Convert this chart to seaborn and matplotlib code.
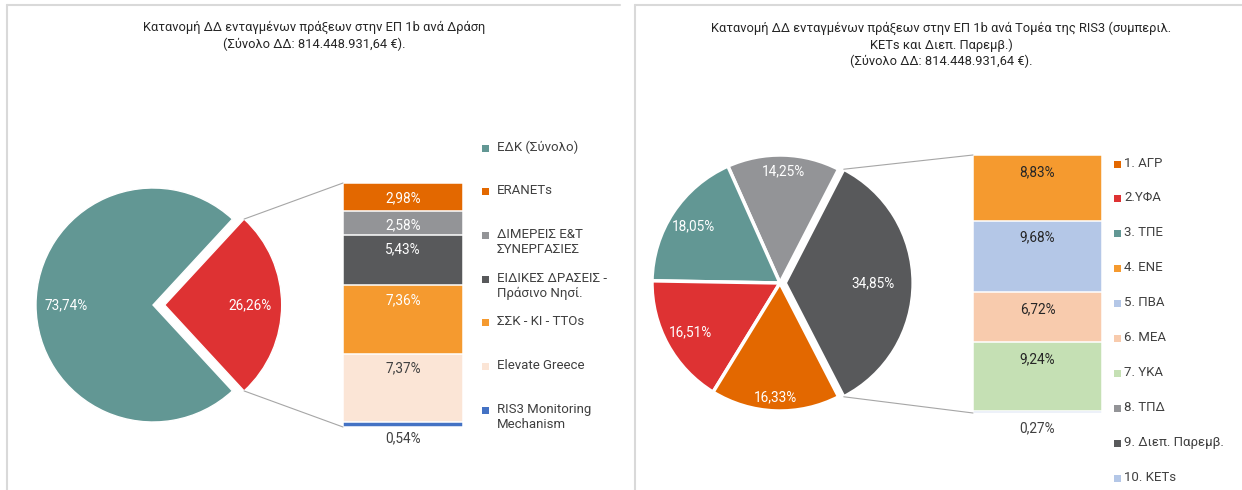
import numpy as np
import pandas as pd
import matplotlib
matplotlib.use("Agg")
import matplotlib.pyplot as plt
import seaborn as sns
from matplotlib.patches import Rectangle, ConnectionPatch

# ---- left chart: ΕΠ 1b ανά Δράση
left_title = "Κατανομή ΔΔ ενταγμένων πράξεων στην ΕΠ 1b ανά Δράση\n(Σύνολο ΔΔ: 814.448.931,64 €)."
left_pie_names = ["Λοιπές Δράσεις", "ΕΔΚ (Σύνολο)"]
left_pie_values = [26.26, 73.74]
left_bar_names = ["ERANETs", "ΔΙΜΕΡΕΙΣ Ε&Τ\nΣΥΝΕΡΓΑΣΙΕΣ", "ΕΙΔΙΚΕΣ ΔΡΑΣΕΙΣ -\nΠράσινο Νησί.",
                  "ΣΣΚ - ΚΙ - TTOs", "Elevate Greece", "RIS3 Monitoring\nMechanism"]
left_bar_values = [2.98, 2.58, 5.43, 7.36, 7.37, 0.54]   # top -> bottom

# ---- right chart: ΕΠ 1b ανά Τομέα της RIS3
right_title = ("Κατανομή ΔΔ ενταγμένων πράξεων στην ΕΠ 1b ανά Τομέα της RIS3 (συμπεριλ.\n"
               "KETs και Διεπ. Παρεμβ.)\n(Σύνολο ΔΔ: 814.448.931,64 €).")
right_pie_names = ["Λοιποί Τομείς", "8. ΤΠΔ", "3. ΤΠΕ", "2.ΥΦΑ", "1. ΑΓΡ"]
right_pie_values = [34.85, 14.25, 18.05, 16.51, 16.33]
right_bar_names = ["4. ΕΝΕ", "5. ΠΒΑ", "6. ΜΕΑ", "7. ΥΚΑ", "10. KETs"]
right_bar_values = [8.83, 9.68, 6.72, 9.24, 0.27]        # top -> bottom
right_legend_names = ["1. ΑΓΡ", "2.ΥΦΑ", "3. ΤΠΕ", "4. ΕΝΕ", "5. ΠΒΑ", "6. ΜΕΑ",
                      "7. ΥΚΑ", "8. ΤΠΔ", "9. Διεπ. Παρεμβ.", "10. KETs"]

# ---- colours
TEAL, RED, DORANGE = "#629794", "#DE3233", "#E36800"
GRAY, DGRAY, ORANGE = "#939497", "#58595B", "#F59A2F"
LPEACH, BLUE = "#FBE5D6", "#4472C4"
LBLUE, PEACH, LGREEN = "#B4C7E7", "#F8CBAD", "#C5E0B4"

left_pie_colors = [RED, TEAL]
left_bar_colors = [DORANGE, GRAY, DGRAY, ORANGE, LPEACH, BLUE]
left_bar_text = ["white", "white", "white", "white", "#404040", "#404040"]
right_pie_colors = [DGRAY, GRAY, TEAL, RED, DORANGE]
right_bar_colors = [ORANGE, LBLUE, PEACH, LGREEN, LBLUE]
right_bar_text = ["#262626"] * 5
right_legend_colors = [DORANGE, RED, TEAL, ORANGE, LBLUE, PEACH, LGREEN, GRAY, DGRAY, LBLUE]

sns.set_theme(style="white")
plt.rcParams["font.family"] = ["Roboto", "DejaVu Sans"]
FS_T, FS_L, FS_V = 9.3, 9.5, 9.8
TXT = "#404040"

W, H = 1242, 490
fig = plt.figure(figsize=(W / 100, H / 100), dpi=100)
base = fig.add_axes([0, 0, 1, 1])
base.set_xlim(0, W)
base.set_ylim(H, 0)
base.axis("off")


def px_axes(x, y, w, h):
    return fig.add_axes([x / W, 1 - (y + h) / H, w / W, h / H])


def fmt(v):
    return f"{v:.2f}%".replace(".", ",")


def draw_pie(cx, cy, r, values, colors, explode, lw, dists):
    k = 1.4
    ax = px_axes(cx - k * r, cy - k * r, 2 * k * r, 2 * k * r)
    start = -180 * values[0] / sum(values)
    ex = [explode] + [0] * (len(values) - 1)
    wedges, _ = ax.pie(values, colors=colors, startangle=start, explode=ex,
                       wedgeprops=dict(edgecolor="white", linewidth=lw))
    ax.set_xlim(-k, k)
    ax.set_ylim(-k, k)
    for w, v, d in zip(wedges, values, dists):
        a = np.deg2rad((w.theta1 + w.theta2) / 2)
        ax.text(w.center[0] + d * np.cos(a), w.center[1] + d * np.sin(a), fmt(v),
                color="white", fontsize=FS_V, ha="center", va="center")
    return ax, wedges[0]


def draw_bar(x, y, w, h, values, colors, tcolors, in_off, below_off):
    ax = px_axes(x, y, w, h)
    tops = np.cumsum(values[::-1])[::-1]
    df = pd.DataFrame({"k": ["bar"] * len(values), "top": tops, "c": colors})
    for _, row in df.iterrows():
        sns.barplot(x=[row["k"]], y=[row["top"]], color=row["c"], width=1, saturation=1,
                    edgecolor="white", linewidth=1.1, ax=ax)
    ax.set_xlim(-0.5, 0.5)
    ax.set_ylim(0, tops[0])
    ax.axis("off")
    for t, v, c in zip(tops, values, tcolors):
        if v >= 1:
            ax.annotate(fmt(v), (0, t), xytext=(0, -in_off), textcoords="offset pixels",
                        ha="center", va="center", color=c, fontsize=FS_V)
        else:
            ax.annotate(fmt(v), (0, 0), xytext=(0, -below_off), textcoords="offset pixels",
                        ha="center", va="center", color=TXT, fontsize=FS_V, annotation_clip=False)
    return ax, tops[0]


def connect(pie_ax, wedge, bar_ax, total):
    cxw, cyw = wedge.center
    for th, yb in ((wedge.theta2, total), (wedge.theta1, 0)):
        a = np.deg2rad(th)
        con = ConnectionPatch(xyA=(cxw + np.cos(a), cyw + np.sin(a)), coordsA=pie_ax.transData,
                              xyB=(-0.5, yb), coordsB=bar_ax.transData,
                              color="#A6A6A6", linewidth=0.8)
        fig.add_artist(con)


def legend(x, y0, step, gap, names, colors):
    for i, (n, c) in enumerate(zip(names, colors)):
        y = y0 + i * step
        base.add_patch(Rectangle((x, y - 3.5), 7, 7, color=c, lw=0))
        base.text(x + gap, y - 7.5, n, va="top", ha="left", fontsize=FS_L, color=TXT,
                  linespacing=1.25)


# panel frames
for x0, x1 in ((7, 620), (635, W)):
    base.plot([x0, x0], [5, H], color="#D9D9D9", lw=1.5)
    base.plot([x0, x1], [5, 5], color="#D9D9D9", lw=1.5)

base.text(314, 36, left_title, ha="center", va="center", fontsize=FS_T, color="#262626",
          linespacing=1.3)
base.text(941, 45, right_title, ha="center", va="center", fontsize=FS_T, color="#262626",
          linespacing=1.3)

# left chart
lp, lw_ = draw_pie(153, 305, 117, left_pie_values, left_pie_colors, 0.10, 1, [0.73, 0.74])
lb, lt = draw_bar(343, 183, 120, 244, left_bar_values, left_bar_colors, left_bar_text, 15, 11)
connect(lp, lw_, lb, lt)
legend(482, 148, 43.7, 15, [left_pie_names[1]] + left_bar_names, [TEAL] + left_bar_colors)

# right chart
rp, rw = draw_pie(780, 283, 128, right_pie_values, right_pie_colors, 0.04, 2.5,
                  [0.69, 0.87, 0.81, 0.80, 0.89])
rb, rt = draw_bar(973, 155, 129, 258, right_bar_values, right_bar_colors, right_bar_text, 17, 15)
connect(rp, rw, rb, rt)
legend(1114, 164, 34.9, 10, right_legend_names, right_legend_colors)

fig.savefig("out.png", dpi=100)
